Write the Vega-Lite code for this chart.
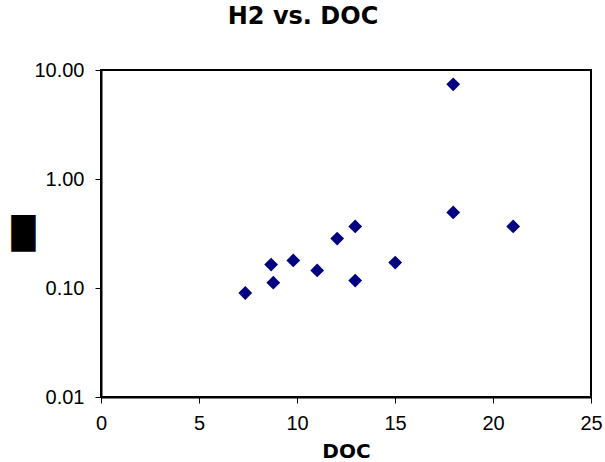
{
  "$schema": "https://vega.github.io/schema/vega-lite/v6.json",
  "width": 490,
  "height": 327,
  "autosize": {"type": "none"},
  "padding": {"left": 101, "top": 70, "right": 14, "bottom": 65},
  "background": "white",
  "title": {
    "text": "H2 vs. DOC",
    "anchor": "middle",
    "frame": "group",
    "dx": -43,
    "offset": 31,
    "font": "DejaVu Sans",
    "fontSize": 24,
    "fontWeight": "bold",
    "color": "black"
  },
  "data": {
    "values": [
      {"DOC": 7.36, "H2": 0.090},
      {"DOC": 8.68, "H2": 0.164},
      {"DOC": 8.79, "H2": 0.112},
      {"DOC": 9.81, "H2": 0.179},
      {"DOC": 11.03, "H2": 0.145},
      {"DOC": 12.05, "H2": 0.284},
      {"DOC": 12.97, "H2": 0.367},
      {"DOC": 12.97, "H2": 0.117},
      {"DOC": 15.01, "H2": 0.171},
      {"DOC": 17.97, "H2": 7.39},
      {"DOC": 17.97, "H2": 0.493},
      {"DOC": 21.03, "H2": 0.367}
    ]
  },
  "mark": {"type": "point", "shape": "diamond", "filled": true, "color": "#000080", "opacity": 1, "size": 190},
  "encoding": {
    "x": {
      "field": "DOC",
      "type": "quantitative",
      "scale": {"domain": [0, 25], "nice": false, "zero": false},
      "axis": {
        "values": [0, 5, 10, 15, 20, 25],
        "title": "DOC",
        "titleFont": "DejaVu Sans",
        "titleFontSize": 20,
        "titleFontWeight": "bold",
        "titleColor": "black",
        "titlePadding": 8,
        "labelFont": "Liberation Sans",
        "labelFontSize": 20,
        "labelColor": "black",
        "labelPadding": 10,
        "tickSize": 6,
        "tickColor": "black",
        "domainColor": "black",
        "domainWidth": 2,
        "grid": false,
        "labelFlush": false
      }
    },
    "y": {
      "field": "H2",
      "type": "quantitative",
      "scale": {"type": "log", "domain": [0.01, 10], "nice": false},
      "axis": {
        "values": [0.01, 0.1, 1, 10],
        "format": ".2f",
        "title": "█",
        "titleFont": "DejaVu Sans",
        "titleFontSize": 31,
        "titleFontWeight": "normal",
        "titleColor": "black",
        "titleAngle": 0,
        "titleAlign": "center",
        "titleBaseline": "middle",
        "titleX": -78,
        "titleY": 164,
        "labelFont": "Liberation Sans",
        "labelFontSize": 20,
        "labelColor": "black",
        "labelPadding": 11,
        "tickSize": 6,
        "tickColor": "black",
        "domainColor": "black",
        "domainWidth": 2,
        "grid": false,
        "labelFlush": false
      }
    }
  },
  "config": {
    "view": {"stroke": "black", "strokeWidth": 2}
  }
}
